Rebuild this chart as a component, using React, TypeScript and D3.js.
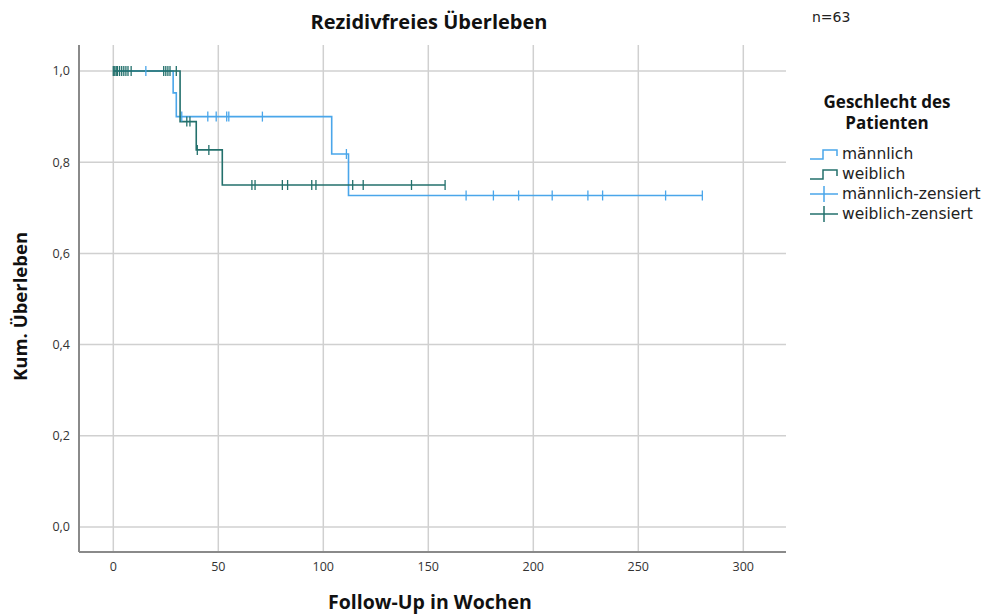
import * as d3 from "d3";

const WIDTH = 997;
const HEIGHT = 615;
const PLOT = { left: 79, right: 786, top: 45, bottom: 552 };

const MALE_COLOR = "#4aa6ea";
const FEMALE_COLOR = "#23706c";

// Step curves: time (weeks) and cumulative survival after each step.
const maleTimes = [0, 28.5, 30, 104, 112, 280.5];
const maleSurv = [1, 0.952, 0.9, 0.818, 0.727, 0.727];
const femaleTimes = [0, 31.8, 39.5, 51.9, 158];
const femaleSurv = [1, 0.889, 0.827, 0.75, 0.75];

// Censored observations (time, survival level at that time).
const maleCensTimes = [15.5, 32.6, 45, 49, 54, 55, 71, 111, 168, 181, 193, 209, 226, 233, 263, 280.5];
const maleCensSurv = [1, 0.9, 0.9, 0.9, 0.9, 0.9, 0.9, 0.818, 0.727, 0.727, 0.727, 0.727, 0.727, 0.727, 0.727, 0.727];
const femaleCensTimes = [0, 0.7, 1.4, 2, 3, 4, 5, 6, 7, 8.5, 24, 25, 26, 27, 30, 35, 36.5, 40, 45.5, 66, 67.5, 80.5, 83, 94.5, 96.5, 114, 119, 142, 158];
const femaleCensSurv = [1, 1, 1, 1, 1, 1, 1, 1, 1, 1, 1, 1, 1, 1, 1, 0.889, 0.889, 0.827, 0.827, 0.75, 0.75, 0.75, 0.75, 0.75, 0.75, 0.75, 0.75, 0.75, 0.75];

const xTicks = [0, 50, 100, 150, 200, 250, 300];
const yTicks = [0, 0.2, 0.4, 0.6, 0.8, 1.0];

const legendItems = [
  { label: "männlich", color: MALE_COLOR, kind: "step" },
  { label: "weiblich", color: FEMALE_COLOR, kind: "step" },
  { label: "männlich-zensiert", color: MALE_COLOR, kind: "cens" },
  { label: "weiblich-zensiert", color: FEMALE_COLOR, kind: "cens" },
];

const FONT = "'Open Sans', 'DejaVu Sans', sans-serif";
const WIDE = "'DejaVu Sans', sans-serif";

export default function App() {
  const x = d3.scaleLinear().domain([0, 300]).range([113.3, 743.3]);
  const y = d3.scaleLinear().domain([0, 1]).range([527, 71]);

  const step = d3
    .line<[number, number]>()
    .x((d) => x(d[0]))
    .y((d) => y(d[1]))
    .curve(d3.curveStepAfter);

  const male = maleTimes.map((t, i) => [t, maleSurv[i]] as [number, number]);
  const female = femaleTimes.map((t, i) => [t, femaleSurv[i]] as [number, number]);

  const ticks = (times: number[], surv: number[], color: string) =>
    times.map((t, i) => (
      <line
        key={i}
        x1={x(t)}
        x2={x(t)}
        y1={y(surv[i]) - 5}
        y2={y(surv[i]) + 5}
        stroke={color}
        strokeWidth={1.3}
      />
    ));

  return (
    <svg
      width={WIDTH}
      height={HEIGHT}
      style={{ position: "absolute", left: 0, top: 0, background: "#fff" }}
      fontFamily={FONT}
    >
      {/* grid */}
      <g stroke="#d0d0d0" strokeWidth={1.5}>
        {xTicks.map((t) => (
          <line key={t} x1={x(t)} x2={x(t)} y1={PLOT.top} y2={PLOT.bottom} />
        ))}
        {yTicks.map((t) => (
          <line key={t} x1={PLOT.left} x2={PLOT.right} y1={y(t)} y2={y(t)} />
        ))}
      </g>
      {/* axes */}
      <line x1={PLOT.left} x2={PLOT.left} y1={PLOT.top} y2={PLOT.bottom} stroke="#8a8a8a" strokeWidth={2} />
      <line x1={PLOT.left} x2={PLOT.right} y1={PLOT.bottom} y2={PLOT.bottom} stroke="#8a8a8a" strokeWidth={2} />
      <g fontSize={12.5} fill="#333">
        {xTicks.map((t) => (
          <text key={t} x={x(t)} y={PLOT.bottom + 19} textAnchor="middle">
            {t}
          </text>
        ))}
        {yTicks.map((t) => (
          <text key={t} x={70} y={y(t)} dy="0.35em" textAnchor="end">
            {d3.format(".1f")(t).replace(".", ",")}
          </text>
        ))}
      </g>

      {/* curves */}
      <path d={step(male) ?? ""} fill="none" stroke={MALE_COLOR} strokeWidth={1.6} />
      <path d={step(female) ?? ""} fill="none" stroke={FEMALE_COLOR} strokeWidth={1.6} />
      {ticks(maleCensTimes, maleCensSurv, MALE_COLOR)}
      {ticks(femaleCensTimes, femaleCensSurv, FEMALE_COLOR)}

      {/* titles */}
      <text x={429} y={29} textAnchor="middle" fontSize={20} fontWeight="bold" fill="#111">
        Rezidivfreies Überleben
      </text>
      <text x={812} y={22} fontSize={14} fontFamily={WIDE} fill="#222">
        n=63
      </text>
      <text x={430} y={609} textAnchor="middle" fontSize={19.5} fontWeight="bold" fill="#111">
        Follow-Up in Wochen
      </text>
      <text
        transform={`translate(27,${(PLOT.top + PLOT.bottom) / 2 + 8}) rotate(-90)`}
        textAnchor="middle"
        fontSize={18.5}
        fontWeight="bold"
        fill="#111"
      >
        Kum. Überleben
      </text>

      {/* legend */}
      <text x={887} y={108} textAnchor="middle" fontSize={17} fontWeight="bold" fill="#111">
        Geschlecht des
      </text>
      <text x={887} y={129} textAnchor="middle" fontSize={17} fontWeight="bold" fill="#111">
        Patienten
      </text>
      {legendItems.map((item, i) => {
        const cy = 154 + i * 20;
        return (
          <g key={item.label}>
            {item.kind === "step" ? (
              <path
                d={`M810,${cy + 5}H823V${cy - 4}H837V${cy + 2}`}
                fill="none"
                stroke={item.color}
                strokeWidth={1.5}
              />
            ) : (
              <g stroke={item.color} strokeWidth={1.5}>
                <line x1={810} x2={838} y1={cy} y2={cy} />
                <line x1={824} x2={824} y1={cy - 8} y2={cy + 8} />
              </g>
            )}
            <text x={842} y={cy} dy="0.35em" fontSize={15.5} fontFamily={WIDE} fill="#222">
              {item.label}
            </text>
          </g>
        );
      })}
    </svg>
  );
}
